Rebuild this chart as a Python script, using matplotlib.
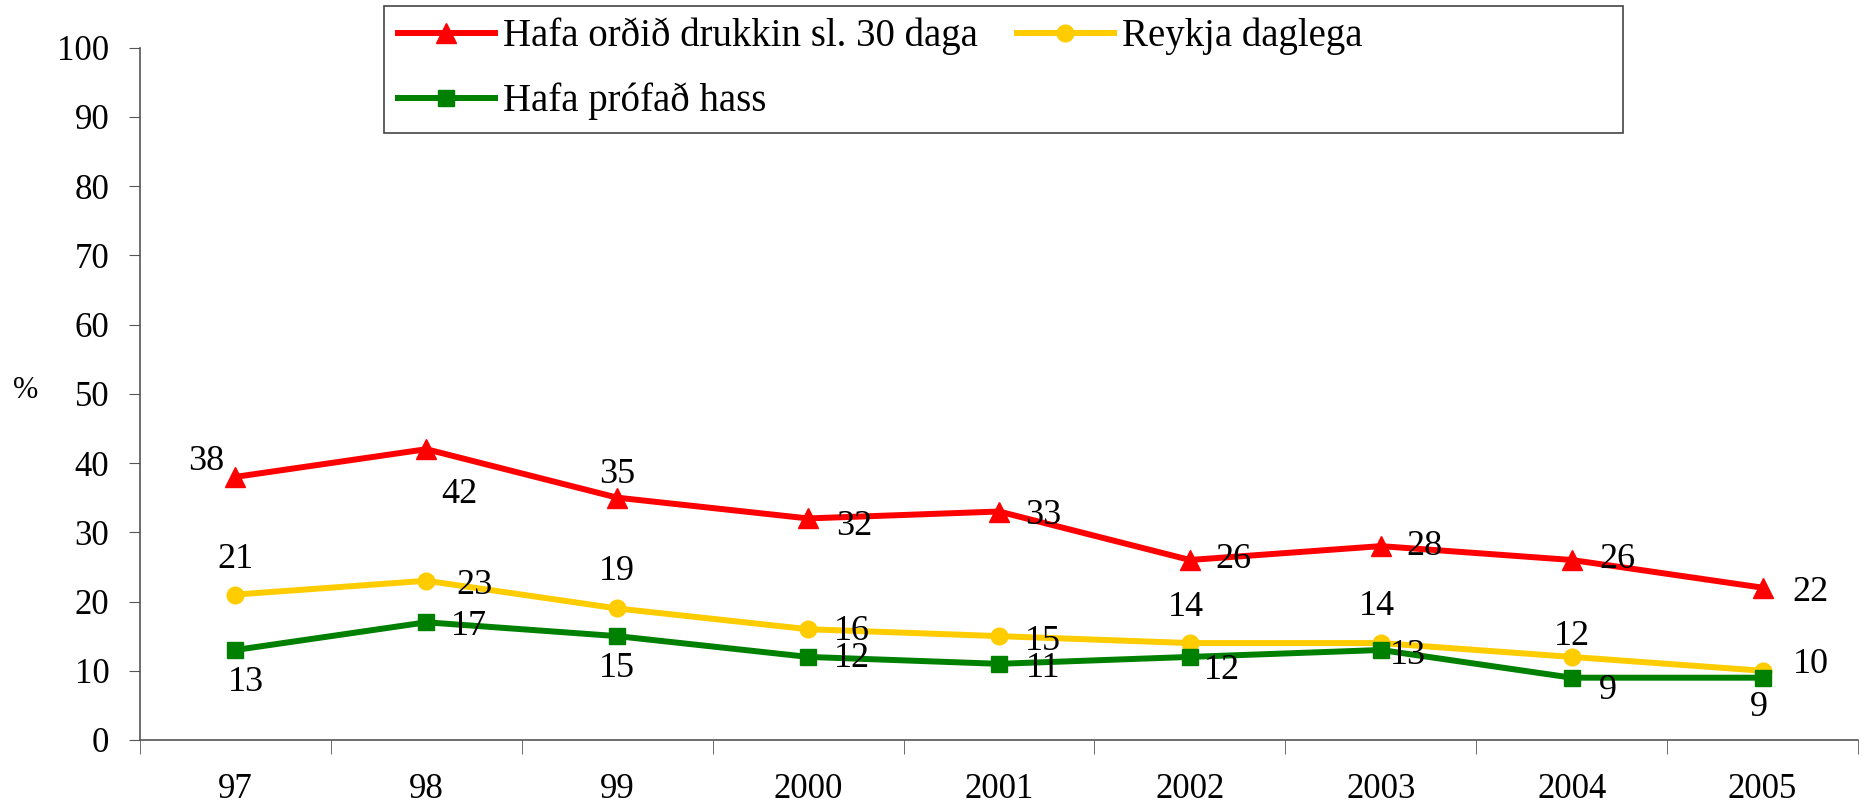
import numpy as np
import matplotlib.pyplot as plt
from matplotlib.patches import Rectangle

years = ["97", "98", "99", "2000", "2001", "2002", "2003", "2004", "2005"]
drukkin = [38, 42, 35, 32, 33, 26, 28, 26, 22]
reykja = [21, 23, 19, 16, 15, 14, 14, 12, 10]
hass = [13, 17, 15, 12, 11, 12, 13, 9, 9]

# label offsets in pixels (dx, dy), y up
off_drukkin = [(-29, 15), (33, -45), (0, 23), (46, -8), (44, -4), (44, 0), (44, 0), (46, 0), (48, -5)]
off_reykja = [(0, 35), (48, -5), (0, 37), (44, -2), (44, -5), (-4, 36), (-4, 37), (0, 20), (48, 6)]
off_hass = [(10, -33), (43, -4), (0, -32), (44, -2), (44, -5), (32, -14), (27, -6), (36, -13), (-4, -30)]

plt.rcParams['font.family'] = ['Liberation Serif', 'DejaVu Serif']

fig = plt.figure(figsize=(18.65, 8.08), dpi=100)
ax = fig.add_axes([140 / 1865, 1 - 740 / 808, 1718 / 1865, (740 - 47.6) / 808])

x = np.arange(len(years))
l1, = ax.plot(x, drukkin, color='#FF0000', lw=4.3, marker='^', ms=14, label='Hafa orðið drukkin sl. 30 daga')
l2, = ax.plot(x, reykja, color='#FFCC00', lw=4.3, marker='o', ms=12, label='Reykja daglega')
l3, = ax.plot(x, hass, color='#008000', lw=4.3, marker='s', ms=11, label='Hafa prófað hass')

for vals, offs in [(drukkin, off_drukkin), (reykja, off_reykja), (hass, off_hass)]:
    for xi, v, (dx, dy) in zip(x, vals, offs):
        ax.annotate(str(v), (xi, v), xytext=(dx, dy), textcoords='offset pixels',
                    ha='center', va='center', fontsize=26)

ax.set_xlim(-0.5, len(years) - 0.5)
ax.set_ylim(0, 100)
ax.set_yticks(np.arange(0, 101, 10))
ax.set_xticks(x)
ax.set_xticklabels(years)
ax.set_xticks(np.arange(-0.5, len(years), 1), minor=True)
ax.tick_params(axis='x', which='major', length=0, pad=24, labelsize=25)
ax.tick_params(axis='x', which='minor', length=10, direction='out', color='#555555')
ax.tick_params(axis='y', length=8, direction='out', pad=14, labelsize=25, color='#555555')
for s in ['top', 'right']:
    ax.spines[s].set_visible(False)
for s in ['left', 'bottom']:
    ax.spines[s].set_color('#555555')
    ax.spines[s].set_linewidth(1.2)

fig.text(26 / 1865, 1 - 391 / 808, '%', fontsize=22, ha='center', va='center')

# legend box drawn separately so it can be wider than its entries
fig.patches.append(Rectangle((384 / 1865, 1 - 133 / 808), (1623 - 384) / 1865, 127 / 808,
                             transform=fig.transFigure, fill=False, edgecolor='#444444', lw=1.2))
leg = fig.legend(handles=[l1, l3, l2], ncol=2, loc='upper left',
                 bbox_to_anchor=(390 / 1865, 1 - 10 / 808),
                 fontsize=28, frameon=False, handlelength=2.5, columnspacing=1.0,
                 handletextpad=0.2, labelspacing=0.7, borderpad=0.2, borderaxespad=0)

fig.savefig('out.png', dpi=100)
